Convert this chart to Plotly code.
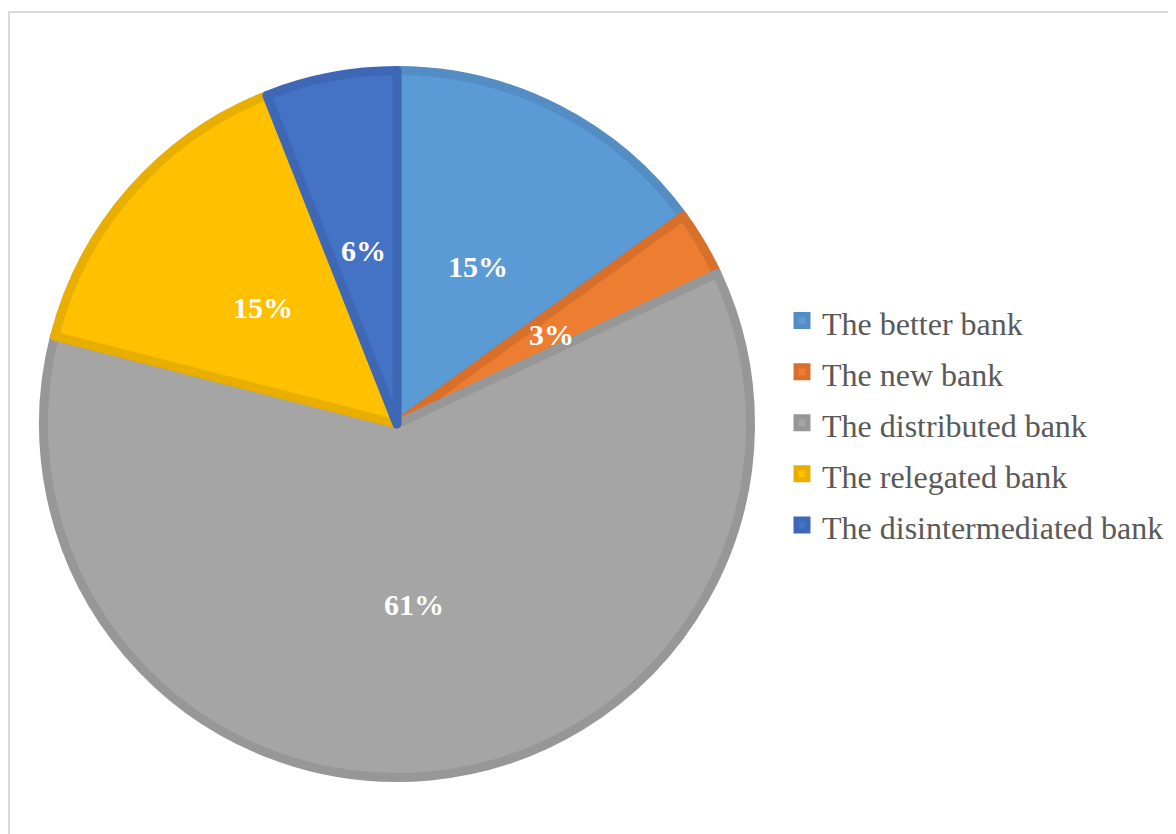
import math
import plotly.graph_objects as go

labels = ["The better bank", "The new bank", "The distributed bank",
          "The relegated bank", "The disintermediated bank"]
values = [15, 3, 61, 15, 6]
fill_colors = ["#5B9BD5", "#ED7D31", "#A5A5A5", "#FFC000", "#4472C4"]
edge_colors = ["#548DC4", "#D8702B", "#979797", "#E8AE00", "#3E68B6"]

W, H = 1176, 834
# pie geometry in figure pixels (from top-left of the plot div)
cx, cy = 389, 416
r_outer = 358
edge_w = 9
r = r_outer - edge_w / 2

legend_labels = ['<span style="font-size:32px">%s</span>' % s for s in labels]

fig = go.Figure(go.Pie(
    labels=legend_labels,
    values=values,
    customdata=labels,
    sort=False,
    direction="clockwise",
    rotation=0,
    marker=dict(colors=fill_colors, line=dict(color=edge_colors, width=edge_w)),
    textinfo="none",
    hovertemplate="%{customdata}: %{percent}<extra></extra>",
    domain=dict(x=[(cx - r) / W, (cx + r) / W],
                y=[(H - cy - r) / H, (H - cy + r) / H]),
))

# percentage labels placed at half the radius along each slice's mid-angle
total = sum(values)
annotations = []
cum = 0
for v in values:
    mid = (cum + v / 2) / total * 2 * math.pi
    cum += v
    px = cx + 0.5 * r_outer * math.sin(mid)
    py = cy - 0.5 * r_outer * math.cos(mid)
    annotations.append(dict(
        x=px / W, y=1 - py / H, xref="paper", yref="paper",
        text="%d%%" % round(v / total * 100), showarrow=False,
        xanchor="center", yanchor="middle", yshift=-2,
        font=dict(family="Liberation Serif", size=30, color="white", weight="bold"),
    ))

fig.update_layout(
    width=W, height=H,
    margin=dict(l=0, r=0, t=0, b=0),
    paper_bgcolor="white",
    font=dict(family="Liberation Serif"),
    annotations=annotations,
    legend=dict(
        x=774 / W, y=1 - 415 / H, xanchor="left", yanchor="middle",
        font=dict(family="Liberation Serif", size=37, color="#595959"),
        bgcolor="rgba(0,0,0,0)",
    ),
    shapes=[dict(type="rect", xref="paper", yref="paper",
                 x0=1 / W, x1=1.05, y0=-0.05, y1=1 - 4 / H,
                 line=dict(color="#D9D9D9", width=2), fillcolor="rgba(0,0,0,0)",
                 layer="below")],
)

fig.write_html("out.html")
